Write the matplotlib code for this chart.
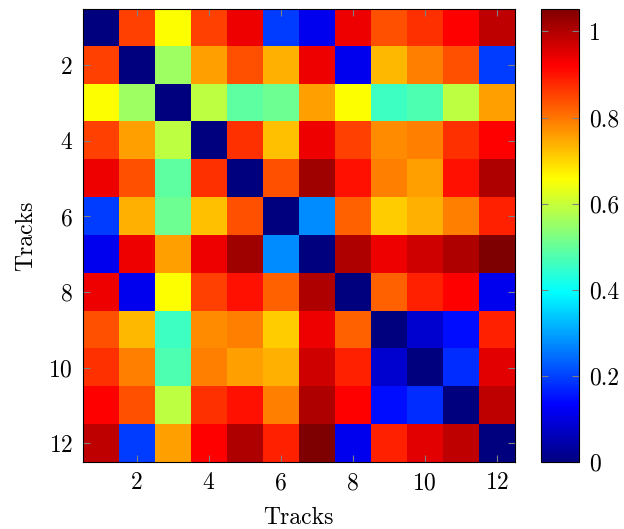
import matplotlib
matplotlib.use("Agg")
import matplotlib.pyplot as plt
import numpy as np
from matplotlib.colors import LinearSegmentedColormap

plt.rcParams['font.family'] = 'cmr10'
plt.rcParams['axes.formatter.use_mathtext'] = True

# pairwise track distances (12 x 12, symmetric)
tracks = list(range(1, 13))
row1 = [0.0, 0.853, 0.656, 0.853, 0.937, 0.197, 0.116, 0.937, 0.837, 0.869, 0.919, 0.984]
row2 = [0.853, 0.0, 0.559, 0.754, 0.837, 0.738, 0.937, 0.116, 0.730, 0.788, 0.837, 0.197]
row3 = [0.656, 0.559, 0.0, 0.590, 0.492, 0.510, 0.754, 0.656, 0.459, 0.476, 0.590, 0.754]
row4 = [0.853, 0.754, 0.590, 0.0, 0.869, 0.722, 0.937, 0.853, 0.774, 0.788, 0.869, 0.919]
row5 = [0.937, 0.837, 0.492, 0.869, 0.0, 0.837, 1.016, 0.903, 0.788, 0.754, 0.903, 1.000]
row6 = [0.197, 0.738, 0.510, 0.722, 0.837, 0.0, 0.279, 0.820, 0.709, 0.738, 0.788, 0.886]
row7 = [0.116, 0.937, 0.754, 0.937, 1.016, 0.279, 0.0, 1.000, 0.937, 0.967, 1.000, 1.053]
row8 = [0.937, 0.116, 0.656, 0.853, 0.903, 0.820, 1.000, 0.0, 0.820, 0.886, 0.919, 0.116]
row9 = [0.837, 0.730, 0.459, 0.774, 0.788, 0.709, 0.937, 0.820, 0.0, 0.083, 0.147, 0.886]
row10 = [0.869, 0.788, 0.476, 0.788, 0.754, 0.738, 0.967, 0.886, 0.083, 0.0, 0.180, 0.950]
row11 = [0.919, 0.837, 0.590, 0.869, 0.903, 0.788, 1.000, 0.919, 0.147, 0.180, 0.0, 0.984]
row12 = [0.984, 0.197, 0.754, 0.919, 1.000, 0.886, 1.053, 0.116, 0.886, 0.950, 0.984, 0.0]
dist = np.array([row1, row2, row3, row4, row5, row6, row7, row8, row9, row10, row11, row12])

# pgfplots style jet
jet = LinearSegmentedColormap.from_list("pgfjet", [
    (0.0, (0, 0, 0.5)), (1/8, (0, 0, 1)), (3/8, (0, 1, 1)),
    (5/8, (1, 1, 0)), (7/8, (1, 0, 0)), (1.0, (0.5, 0, 0))])

fig = plt.figure(figsize=(6.24, 5.29), dpi=100)
ax = fig.add_axes([82.7/624, 1 - 462.3/529, 432/624, 453.8/529])
cax = fig.add_axes([540.7/624, 1 - 462.3/529, 38.6/624, 453.8/529])

im = ax.imshow(dist, cmap=jet, vmin=0, vmax=dist.max(), aspect='auto',
               extent=[0.5, 12.5, 12.5, 0.5], interpolation='nearest')
ax.set_xlim(0.5, 12.5)
ax.set_ylim(12.5, 0.5)
ax.set_xticks(tracks[1::2])
ax.set_yticks(tracks[1::2])
ax.tick_params(direction='in', length=5, width=0.8, color='gray',
               top=True, right=True, labelsize=17, pad=7)
ax.set_xlabel('Tracks', fontsize=17, labelpad=9)
ax.set_ylabel('Tracks', fontsize=17, labelpad=8)
for s in ax.spines.values():
    s.set_linewidth(0.8)

cb = fig.colorbar(im, cax=cax)
cb.set_ticks([0, 0.2, 0.4, 0.6, 0.8, 1])
cb.set_ticklabels(['0', '0.2', '0.4', '0.6', '0.8', '1'])
cax.tick_params(direction='in', length=5, width=0.8, color='gray',
                left=True, right=True, labelsize=17, pad=7)
cb.outline.set_linewidth(0.8)

plt.savefig('out.png', dpi=100)
